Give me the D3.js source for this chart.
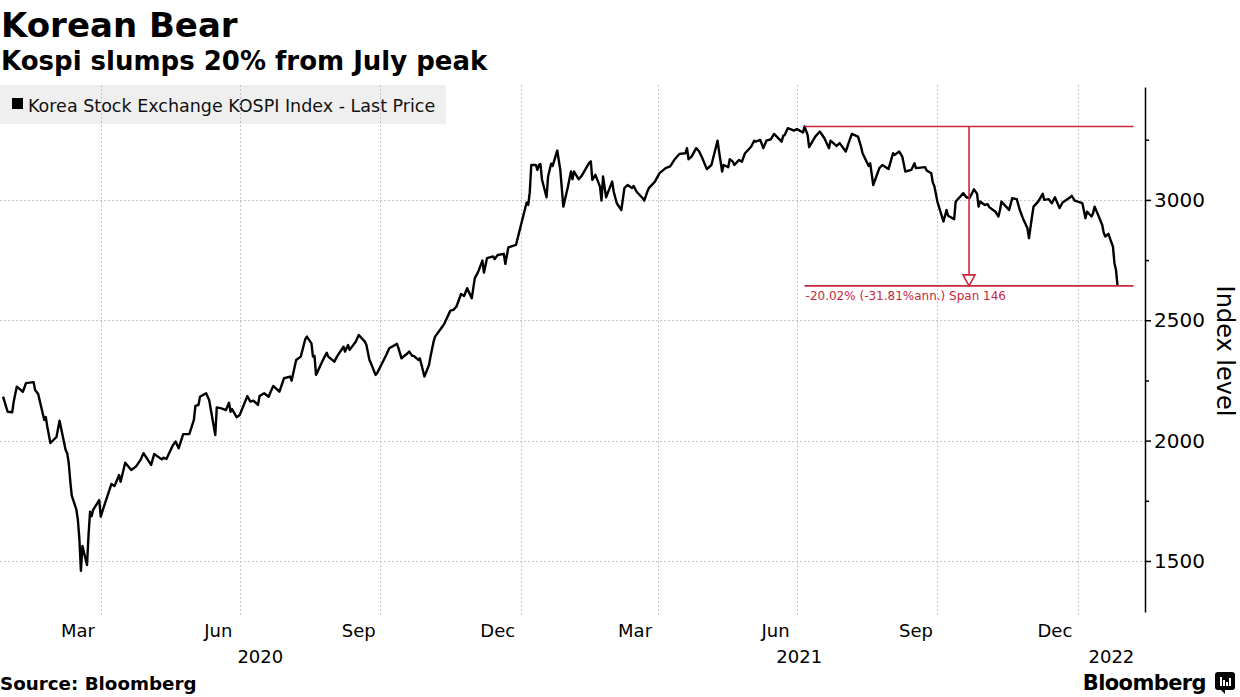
<!DOCTYPE html>
<html><head><meta charset="utf-8">
<script src="https://cdn.jsdelivr.net/npm/d3@7"></script>
<style>body{margin:0;background:#fff;} svg{display:block;}</style>
</head><body>
<svg id="chart" width="1240" height="697"></svg>
<script>
// ---- data ----
const dates = [
"2020-01-28","2020-01-31","2020-02-03","2020-02-04","2020-02-06","2020-02-10","2020-02-12","2020-02-17","2020-02-18","2020-02-20",
"2020-02-24","2020-02-25","2020-02-26","2020-02-28","2020-03-03","2020-03-05","2020-03-09","2020-03-10","2020-03-11","2020-03-12",
"2020-03-13","2020-03-16","2020-03-17","2020-03-18","2020-03-19","2020-03-20","2020-03-23","2020-03-24","2020-03-25","2020-03-26",
"2020-03-27","2020-03-31","2020-04-01","2020-04-03","2020-04-08","2020-04-10","2020-04-13","2020-04-14","2020-04-17","2020-04-21",
"2020-04-24","2020-04-27","2020-04-29","2020-05-04","2020-05-06","2020-05-11","2020-05-12","2020-05-14","2020-05-18","2020-05-20",
"2020-05-22","2020-05-25","2020-05-29","2020-06-01","2020-06-02","2020-06-04","2020-06-05","2020-06-09","2020-06-11","2020-06-15",
"2020-06-16","2020-06-19","2020-06-22","2020-06-24","2020-06-25","2020-06-26","2020-06-29","2020-07-01","2020-07-06","2020-07-08",
"2020-07-10","2020-07-13","2020-07-14","2020-07-17","2020-07-20","2020-07-21","2020-07-23","2020-07-27","2020-07-30","2020-08-03",
"2020-08-04","2020-08-07","2020-08-10","2020-08-13","2020-08-14","2020-08-17","2020-08-18","2020-08-19","2020-08-20","2020-08-24",
"2020-08-27","2020-08-28","2020-09-01","2020-09-03","2020-09-07","2020-09-08","2020-09-10","2020-09-11","2020-09-15","2020-09-17",
"2020-09-21","2020-09-22","2020-09-24","2020-09-25","2020-09-28","2020-09-29","2020-10-05","2020-10-07","2020-10-12","2020-10-13",
"2020-10-15","2020-10-19","2020-10-20","2020-10-22","2020-10-23","2020-10-26","2020-10-27","2020-10-30","2020-11-02","2020-11-03",
"2020-11-05","2020-11-06","2020-11-10","2020-11-12","2020-11-16","2020-11-18","2020-11-20","2020-11-23","2020-11-25","2020-11-27",
"2020-11-30","2020-12-02","2020-12-04","2020-12-07","2020-12-08","2020-12-10","2020-12-14","2020-12-15","2020-12-17","2020-12-21",
"2020-12-22","2020-12-24","2020-12-29","2021-01-04","2021-01-05","2021-01-06","2021-01-07","2021-01-08","2021-01-11","2021-01-12",
"2021-01-13","2021-01-14","2021-01-15","2021-01-18","2021-01-19","2021-01-21","2021-01-22","2021-01-25","2021-01-27","2021-01-29",
"2021-02-01","2021-02-03","2021-02-04","2021-02-05","2021-02-08","2021-02-10","2021-02-15","2021-02-16","2021-02-17","2021-02-19",
"2021-02-22","2021-02-23","2021-02-24","2021-02-26","2021-03-02","2021-03-03","2021-03-05","2021-03-08","2021-03-10","2021-03-12",
"2021-03-15","2021-03-16","2021-03-18","2021-03-22","2021-03-23","2021-03-25","2021-03-26","2021-03-30","2021-04-02","2021-04-06",
"2021-04-09","2021-04-12","2021-04-15","2021-04-19","2021-04-20","2021-04-21","2021-04-23","2021-04-26","2021-04-28","2021-04-30",
"2021-05-03","2021-05-06","2021-05-10","2021-05-11","2021-05-13","2021-05-14","2021-05-17","2021-05-18","2021-05-20","2021-05-21",
"2021-05-24","2021-05-26","2021-05-28","2021-06-01","2021-06-03","2021-06-04","2021-06-07","2021-06-09","2021-06-11","2021-06-14",
"2021-06-16","2021-06-21","2021-06-22","2021-06-23","2021-06-25","2021-06-28","2021-06-29","2021-07-01","2021-07-05","2021-07-06",
"2021-07-08","2021-07-09","2021-07-13","2021-07-16","2021-07-19","2021-07-22","2021-07-23","2021-07-27","2021-07-29","2021-08-02",
"2021-08-04","2021-08-06","2021-08-10","2021-08-12","2021-08-13","2021-08-17","2021-08-18","2021-08-20","2021-08-24","2021-08-26",
"2021-08-30","2021-09-02","2021-09-03","2021-09-06","2021-09-08","2021-09-10","2021-09-14","2021-09-16","2021-09-17","2021-09-23",
"2021-09-24","2021-09-27","2021-09-28","2021-09-29","2021-10-01","2021-10-05","2021-10-07","2021-10-08","2021-10-12","2021-10-13",
"2021-10-15","2021-10-18","2021-10-20","2021-10-22","2021-10-25","2021-10-27","2021-10-28","2021-10-29","2021-11-01","2021-11-03",
"2021-11-04","2021-11-08","2021-11-10","2021-11-11","2021-11-12","2021-11-15","2021-11-17","2021-11-19","2021-11-22","2021-11-24",
"2021-11-26","2021-11-29","2021-11-30","2021-12-02","2021-12-03","2021-12-06","2021-12-09","2021-12-10","2021-12-13","2021-12-15",
"2021-12-17","2021-12-20","2021-12-22","2021-12-27","2021-12-28","2021-12-30","2022-01-03","2022-01-04","2022-01-06","2022-01-07",
"2022-01-10","2022-01-11","2022-01-12","2022-01-14","2022-01-17","2022-01-18","2022-01-19","2022-01-21","2022-01-24","2022-01-25",
"2022-01-26","2022-01-27"
];
const kospi = [
2183,2120,2118,2162,2224,2203,2239,2243,2210,2194,
2086,2098,2057,1990,2015,2083,1961,1948,1908,1834,
1771,1714,1672,1591,1459,1562,1483,1609,1705,1686,
1712,1753,1684,1725,1820,1811,1857,1829,1908,1878,
1892,1919,1948,1899,1944,1922,1929,1924,1978,1996,
1968,2027,2027,2086,2144,2148,2182,2197,2169,2023,
2138,2134,2127,2157,2120,2131,2097,2106,2185,2162,
2166,2148,2185,2197,2182,2199,2227,2203,2259,2266,
2249,2335,2349,2422,2432,2404,2349,2352,2273,2328,
2365,2349,2328,2352,2390,2370,2397,2377,2411,2439,
2411,2397,2335,2321,2273,2280,2356,2384,2402,2384,
2342,2363,2370,2352,2352,2335,2342,2266,2314,2349,
2411,2432,2467,2485,2540,2543,2557,2609,2601,2633,
2591,2675,2698,2748,2698,2758,2765,2754,2771,2776,
2734,2803,2813,2965,2989,2979,3031,3145,3145,3125,
3145,3149,3085,3011,3097,3150,3141,3205,3125,2972,
3055,3118,3086,3118,3086,3100,3155,3160,3083,3104,
3055,2997,3097,3011,3076,3034,2986,2958,3049,3062,
3049,3058,3034,3007,2997,3034,3049,3076,3111,3132,
3139,3169,3191,3194,3215,3169,3180,3215,3201,3174,
3128,3145,3246,3201,3118,3145,3136,3169,3159,3145,
3166,3159,3194,3221,3246,3242,3249,3215,3246,3252,
3274,3242,3266,3270,3298,3291,3288,3294,3280,3305,
3270,3219,3263,3284,3256,3215,3246,3224,3236,3201,
3239,3274,3263,3221,3194,3141,3152,3062,3132,3145,
3128,3194,3187,3201,3180,3118,3125,3152,3132,3136,
3122,3111,3072,3058,2993,2910,2958,2934,2920,2993,
3007,3028,3011,3007,3044,3025,2972,2993,2979,2982,
2970,2951,2931,2958,2993,2972,2958,3007,3003,2958,
2924,2882,2841,2931,2972,2993,3025,3000,3003,2986,
3011,2966,2989,3011,3017,2997,2989,2986,2924,2951,
2931,2945,2972,2942,2896,2862,2848,2859,2806,2737,
2709,2643
];
const gridDates = ["2020-04-01","2020-07-01","2020-10-01","2021-01-01","2021-04-01","2021-07-01","2021-10-01","2022-01-01"];
const monthLabels = ["Mar","Jun","Sep","Dec","Mar","Jun","Sep","Dec"];
const yearLabels = ["2020","2021","2022"];
const yMajorTicks = [1500,2000,2500,3000];
const yMinorTicks = [1750,2250,2750,3250];
const legendLabel = "Korea Stock Exchange KOSPI Index - Last Price";
const spanLabel = "-20.02% (-31.81%ann.) Span 146";

// ---- drawing ----
const FONT = "'DejaVu Sans', sans-serif";
const RED = "#c8283e";
const parse = d3.timeParse("%Y-%m-%d");
const data = dates.map((d, i) => ({date: parse(d), value: kospi[i]}));

const plotLeft = 0, plotRight = 1145, plotTop = 87, plotBottom = 612;
const x = d3.scaleTime().domain([parse("2020-01-26"), parse("2022-02-14")]).range([plotLeft, plotRight]);
const y = d3.scaleLinear().domain([1288, 3469]).range([plotBottom, plotTop]);

const svg = d3.select("#chart");
svg.append("rect").attr("width", 1240).attr("height", 697).attr("fill", "#fff");

// legend box (behind grid)
const lg = svg.append("g");
lg.append("rect").attr("x", 0).attr("y", 85).attr("width", 446).attr("height", 39).attr("fill", "#efefef");
lg.append("rect").attr("x", 12).attr("y", 98).attr("width", 11).attr("height", 11).attr("fill", "#000");
lg.append("text").attr("x", 28).attr("y", 112).attr("font-family", FONT).attr("font-size", 17.5)
  .attr("fill", "#111").text(legendLabel);

// gridlines
const grid = svg.append("g").attr("stroke", "#c4c4c4").attr("stroke-width", 1).attr("stroke-dasharray", "2,2");
grid.selectAll("line.h").data(yMajorTicks).join("line")
  .attr("x1", plotLeft).attr("x2", plotRight)
  .attr("y1", d => Math.round(y(d)) + 0.5).attr("y2", d => Math.round(y(d)) + 0.5);
grid.selectAll("line.v").data(gridDates.map(parse)).join("line")
  .attr("x1", d => Math.round(x(d)) + 0.5).attr("x2", d => Math.round(x(d)) + 0.5)
  .attr("y1", plotTop - 2).attr("y2", 616);

// y axis (right)
const yAxis = d3.axisRight(y).tickValues(yMajorTicks).tickSize(6).tickSizeOuter(0).tickPadding(3)
  .tickFormat(d3.format("d"));
const ya = svg.append("g").attr("transform", `translate(${plotRight},0)`).call(yAxis);
ya.select(".domain").attr("stroke", "#000").attr("stroke-width", 1.5);
ya.selectAll(".tick line").attr("stroke", "#000").attr("stroke-width", 1.5);
ya.selectAll(".tick text").attr("font-family", FONT).attr("font-size", 20).attr("fill", "#000");
const yMinor = d3.axisRight(y).tickValues(yMinorTicks).tickSize(4).tickSizeOuter(0).tickFormat("");
const ym = svg.append("g").attr("transform", `translate(${plotRight},0)`).call(yMinor);
ym.select(".domain").remove();
ym.selectAll(".tick line").attr("stroke", "#000").attr("stroke-width", 1.5);

svg.append("text").attr("transform", `translate(1217,351) rotate(90)`).attr("text-anchor", "middle")
  .attr("font-family", FONT).attr("font-size", 24).attr("fill", "#000").text("Index level");

// x labels
const xl = svg.append("g").attr("font-family", FONT).attr("font-size", 18).attr("fill", "#000").attr("text-anchor", "middle");
xl.selectAll("text.m").data(gridDates.map(parse)).join("text")
  .attr("x", d => x(d3.timeDay.offset(d3.timeMonth.offset(d, -1), 16)))
  .attr("y", 637).text((d, i) => monthLabels[i]);
const yearBounds = [x.domain()[0], parse("2021-01-01"), parse("2022-01-01"), x.domain()[1]];
xl.selectAll("text.y").data(yearLabels).join("text")
  .attr("x", (d, i) => (x(yearBounds[i]) + x(yearBounds[i + 1])) / 2)
  .attr("y", 663).text(d => d);

// price line
const line = d3.line().x(d => x(d.date)).y(d => y(d.value));
svg.append("path").datum(data).attr("d", line).attr("fill", "none")
  .attr("stroke", "#000").attr("stroke-width", 2.4).attr("stroke-linejoin", "round");

// drawdown annotation
const peak = data.reduce((a, b) => (b.value > a.value ? b : a));
const last = data[data.length - 1];
const ax0 = x(peak.date), ax1 = x(last.date) + 16;
const ayTop = y(peak.value), ayBot = y(last.value);
const axm = (ax0 + ax1) / 2;
const an = svg.append("g").attr("stroke", RED).attr("stroke-width", 1.6).attr("fill", "none");
an.append("line").attr("x1", ax0).attr("x2", ax1).attr("y1", ayTop).attr("y2", ayTop);
an.append("line").attr("x1", ax0).attr("x2", ax1).attr("y1", ayBot).attr("y2", ayBot);
an.append("line").attr("x1", axm).attr("x2", axm).attr("y1", ayTop).attr("y2", ayBot - 11);
an.append("path").attr("d", `M${axm - 6},${ayBot - 11} L${axm + 6},${ayBot - 11} L${axm},${ayBot} Z`)
  .attr("fill", "#fff");
svg.append("text").attr("x", ax0 + 1).attr("y", ayBot + 14).attr("font-family", FONT)
  .attr("font-size", 12).attr("fill", RED).text(spanLabel);

// titles
svg.append("text").attr("x", 1).attr("y", 37).attr("font-family", FONT).attr("font-weight", "bold")
  .attr("font-size", 34).attr("fill", "#000").text("Korean Bear");
svg.append("text").attr("x", 1).attr("y", 70).attr("font-family", FONT).attr("font-weight", "bold")
  .attr("font-size", 26).attr("fill", "#000").text("Kospi slumps 20% from July peak");

// footer
svg.append("text").attr("x", 0).attr("y", 690).attr("font-family", FONT).attr("font-weight", "bold")
  .attr("font-size", 18.3).attr("fill", "#000").text("Source: Bloomberg");
svg.append("text").attr("x", 1206).attr("y", 690).attr("text-anchor", "end").attr("font-family", FONT)
  .attr("font-weight", "bold").attr("font-size", 21).attr("letter-spacing", -0.6).attr("fill", "#000").text("Bloomberg");
const logo = svg.append("g").attr("transform", "translate(1215,672)");
logo.append("rect").attr("width", 20).attr("height", 18).attr("rx", 3).attr("fill", "#000");
logo.append("path").attr("d", "M6,18 L10,22 L10,18 Z").attr("fill", "#000");
[[5,9],[8,6],[11,4],[14,8]].forEach(([bx, bh]) =>
  logo.append("rect").attr("x", bx).attr("y", 14 - bh).attr("width", 2).attr("height", bh).attr("fill", "#fff"));
</script>
</body></html>
